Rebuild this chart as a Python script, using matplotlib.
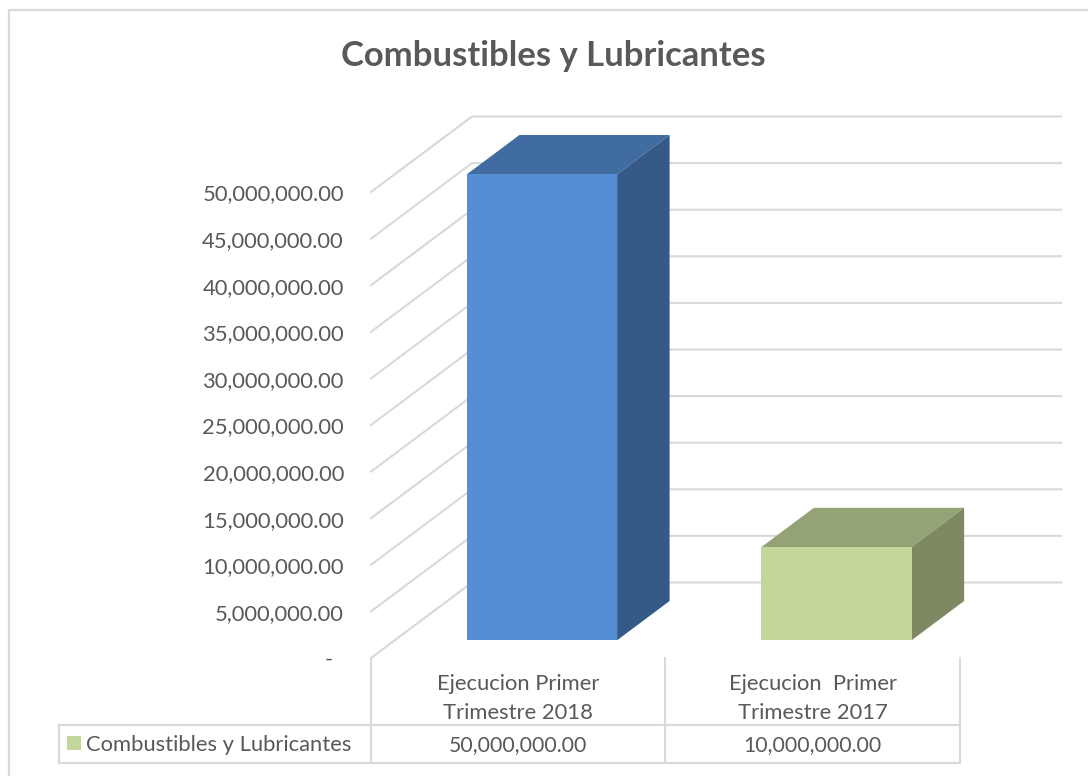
import matplotlib
matplotlib.use('Agg')
import matplotlib.pyplot as plt
from matplotlib.transforms import ScaledTranslation

categories = ['Ejecucion Primer\nTrimestre 2018', 'Ejecucion  Primer\nTrimestre 2017']
values = [50000000, 10000000]
value_labels = ['50,000,000.00', '10,000,000.00']
tick_values = [0, 5000000, 10000000, 15000000, 20000000, 25000000,
               30000000, 35000000, 40000000, 45000000, 50000000]
tick_labels = ['-  ', '5,000,000.00', '10,000,000.00', '15,000,000.00', '20,000,000.00',
               '25,000,000.00', '30,000,000.00', '35,000,000.00', '40,000,000.00',
               '45,000,000.00', '50,000,000.00']
series_name = 'Combustibles y Lubricantes'
title = 'Combustibles y Lubricantes'

W, H = 1088, 776
GRID = '#D9D9D9'
TEXT = '#595959'
front_col = ['#558ED5', '#C3D69B']
top_col = ['#406CA2', '#93A375']
side_col = ['#355A88', '#7D8960']

plt.rcParams['font.family'] = ['Lato', 'DejaVu Sans']

fig = plt.figure(figsize=[W / 100, H / 100], dpi=100)

# overlay in pixel coordinates for the frame and data table
ov = fig.add_axes([0, 0, 1, 1])
ov.set_xlim(0, W)
ov.set_ylim(H, 0)
ov.axis('off')
ov.plot([9, 9, 1100], [790, 10, 10], color=GRID, lw=1.6)
ov.text(553, 56, title, ha='center', va='center', fontsize=24.9, fontweight='bold', color=TEXT)

# table lines
for x in [371, 665, 960]:
    ov.plot([x, x], [658, 763], color=GRID, lw=1.5)
ov.plot([59, 59, 960], [725, 763, 763], color=GRID, lw=1.5)
ov.plot([59, 960], [725, 725], color=GRID, lw=1.5)
ov.fill([67, 81, 81, 67], [736, 736, 750, 750], color=front_col[1], lw=0)
ov.text(86, 745, series_name, ha='left', va='center', fontsize=15.8, color=TEXT)

# main axes is the front plane of the 3d box
L, R, T, B = 371, 960, 192, 658
ax = fig.add_axes([L / W, 1 - B / H, (R - L) / W, (B - T) / H])
ax.set_xlim(-0.5, 1.5)
ax.set_ylim(0, 50000000)
ax.patch.set_alpha(0)
for s in ax.spines.values():
    s.set_visible(False)
ax.set_xticks([])
ax.set_yticks(tick_values)
ax.set_yticklabels(tick_labels, fontsize=15.8, color=TEXT)
ax.tick_params(axis='y', length=0, pad=19.5)
for lbl in ax.get_yticklabels():
    lbl.set_transform(lbl.get_transform() + ScaledTranslation(0, -0.5 / 100, fig.dpi_scale_trans))

# depth of the box, in data units
dx = 101 / ((R - L) / 2.0)
dy = 75.5 / ((B - T) / 50000000.0)

for v in tick_values:
    ax.plot([-0.5, -0.5 + dx, 1.5 + dx], [v, v + dy, v + dy], color=GRID, lw=1.5,
            clip_on=False, zorder=1, solid_joinstyle='miter')

bar_w = 0.51
d0, d1 = 0.235, 0.755
for i in range(len(values)):
    v = values[i]
    x0 = i - bar_w / 2 + d0 * dx
    x1 = i + bar_w / 2 + d0 * dx
    y0 = d0 * dy
    y1 = v + d0 * dy
    back_x = (d1 - d0) * dx
    back_y = (d1 - d0) * dy
    ax.bar(x0 + bar_w / 2, v, bar_w, bottom=y0, color=front_col[i], clip_on=False, zorder=3)
    ax.fill([x0, x1, x1 + back_x, x0 + back_x], [y1, y1, y1 + back_y, y1 + back_y],
            color=top_col[i], lw=0, clip_on=False, zorder=2)
    ax.fill([x1, x1 + back_x, x1 + back_x, x1], [y0, y0 + back_y, y1 + back_y, y1],
            color=side_col[i], lw=0, clip_on=False, zorder=2)

# table text under each category
for i in range(len(categories)):
    cx = L + (R - L) * (i + 0.5) / 2.0
    ov.text(cx, 698.5, categories[i], ha='center', va='center', fontsize=15.8,
            color=TEXT, linespacing=1.53)
    ov.text(cx, 745, value_labels[i], ha='center', va='center', fontsize=15.3, color=TEXT)

fig.savefig('out.png', dpi=100)
